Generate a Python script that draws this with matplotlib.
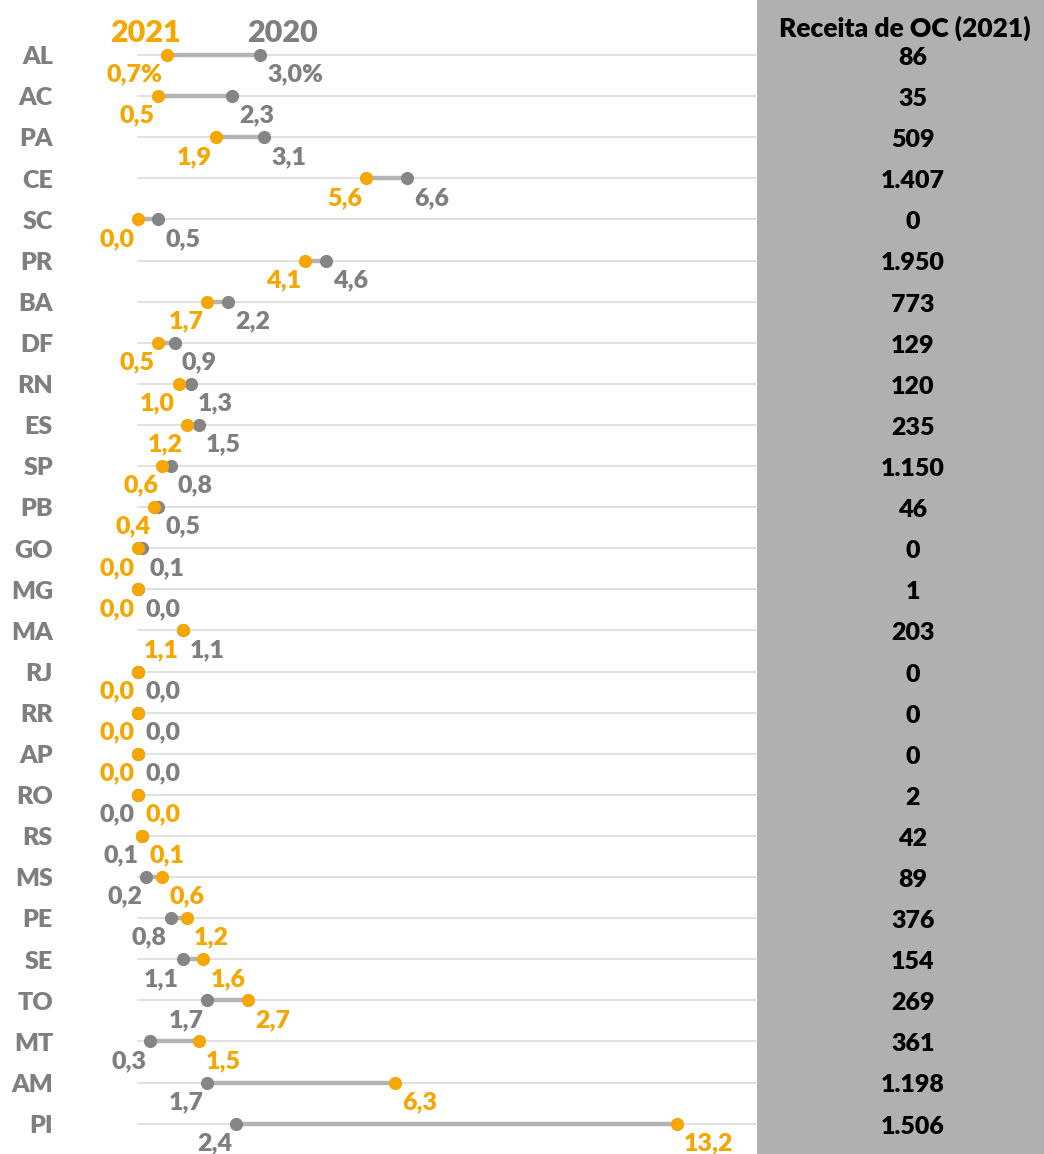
import matplotlib

matplotlib.use("Agg")
import matplotlib.pyplot as plt
from matplotlib.patches import Rectangle

plt.rcParams["font.family"] = ["Lato", "DejaVu Sans"]
plt.rcParams["font.weight"] = "bold"

states = ["AL", "AC", "PA", "CE", "SC", "PR", "BA", "DF", "RN", "ES", "SP", "PB", "GO", "MG",
          "MA", "RJ", "RR", "AP", "RO", "RS", "MS", "PE", "SE", "TO", "MT", "AM", "PI"]
val_2021 = [0.7, 0.5, 1.9, 5.6, 0.0, 4.1, 1.7, 0.5, 1.0, 1.2, 0.6, 0.4, 0.0, 0.0,
            1.1, 0.0, 0.0, 0.0, 0.0, 0.1, 0.6, 1.2, 1.6, 2.7, 1.5, 6.3, 13.2]
val_2020 = [3.0, 2.3, 3.1, 6.6, 0.5, 4.6, 2.2, 0.9, 1.3, 1.5, 0.8, 0.5, 0.1, 0.0,
            1.1, 0.0, 0.0, 0.0, 0.0, 0.1, 0.2, 0.8, 1.1, 1.7, 0.3, 1.7, 2.4]
receita = ["86", "35", "509", "1.407", "0", "1.950", "773", "129", "120", "235", "1.150", "46", "0", "1",
           "203", "0", "0", "0", "2", "42", "89", "376", "154", "269", "361", "1.198", "1.506"]
# rows from RO on: 2021 label goes to the right
first_up_row = 18

ORANGE = "#F5A700"
GRAY = "#858585"
LINE = "#B3B3B3"
GRID = "#D9D9D9"
PANEL = "#B0B0B0"
TXT_GRAY = "#7F7F7F"

W, H = 1044, 1154
PX_UNIT = 40.8      # pixels per percentage point
X0 = 138            # pixel of value 0
X_END = 757         # panel start
ROW0 = 55
ROW_H = 41.1
WEIGHT = 800

fig = plt.figure(figsize=(W / 100, H / 100), dpi=100)
fig.patches.append(Rectangle((X_END / W, 0), 1 - X_END / W, 1, transform=fig.transFigure,
                             facecolor=PANEL, edgecolor="none", zorder=-1))

ax = fig.add_axes([X0 / W, 0, (X_END - X0) / W, 1])
ax.set_xlim(0, (X_END - X0) / PX_UNIT)
ax.set_ylim((H - ROW0) / ROW_H, -ROW0 / ROW_H)
ax.axis("off")


def px(p):
    return p / PX_UNIT


xmax = (X_END - X0) / PX_UNIT
lab_off = 26.7 / ROW_H
fs = 18

for i, st in enumerate(states):
    a, b = val_2021[i], val_2020[i]
    ax.plot([0, xmax], [i, i], color=GRID, lw=1.1, zorder=1, clip_on=False)
    ax.plot([a, b], [i, i], color=LINE, lw=3.2, zorder=2, solid_capstyle="butt", clip_on=False)
    ax.plot([b], [i], "o", color=GRAY, ms=9.5, mec="none", zorder=3, clip_on=False)
    ax.plot([a], [i], "o", color=ORANGE, ms=9.5, mec="none", zorder=4, clip_on=False)

    t21 = f"{a:.1f}".replace(".", ",")
    t20 = f"{b:.1f}".replace(".", ",")
    if i == 0:
        t21 += "%"
        t20 += "%"
    if i < first_up_row:
        left_v, left_t, left_c = a, t21, ORANGE
        right_v, right_t, right_c = b, t20, TXT_GRAY
    else:
        left_v, left_t, left_c = b, t20, TXT_GRAY
        right_v, right_t, right_c = a, t21, ORANGE
    ax.text(left_v - px(4), i + lab_off, left_t, color=left_c, fontsize=fs,
            ha="right", va="baseline", fontweight=WEIGHT)
    ax.text(right_v + px(7), i + lab_off, right_t, color=right_c, fontsize=fs,
            ha="left", va="baseline", fontweight=WEIGHT)

    ax.text(px(53 - X0), i + 9.3 / ROW_H, st, color=TXT_GRAY, fontsize=fs,
            ha="right", va="baseline", fontweight=WEIGHT)
    ax.text(px(913 - X0), i + 10 / ROW_H, receita[i], color="black", fontsize=fs,
            ha="center", va="baseline", fontweight=WEIGHT)

ax.text(px(145 - X0), (41.7 - ROW0) / ROW_H, "2021", color=ORANGE, fontsize=22,
        ha="center", va="baseline", fontweight=WEIGHT)
ax.text(px(282 - X0), (41.7 - ROW0) / ROW_H, "2020", color=TXT_GRAY, fontsize=22,
        ha="center", va="baseline", fontweight=WEIGHT)
ax.text(px(905 - X0), (37 - ROW0) / ROW_H, "Receita de OC (2021)", color="black", fontsize=19,
        ha="center", va="baseline", fontweight=WEIGHT)

fig.savefig("out.png", dpi=100)
